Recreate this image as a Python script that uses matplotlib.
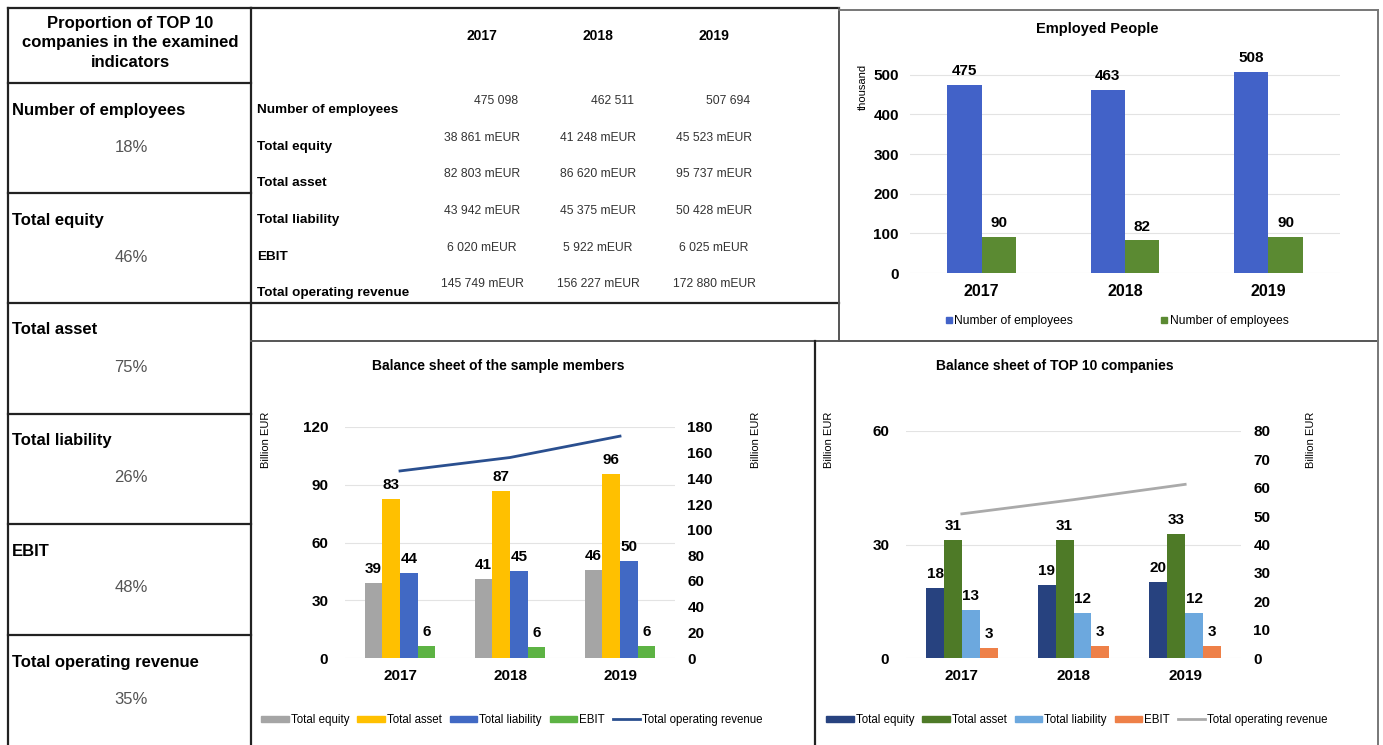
import numpy as np
import matplotlib
matplotlib.use("Agg")
import matplotlib.pyplot as plt
from matplotlib.lines import Line2D
from matplotlib.patches import Patch

plt.rcParams['font.family'] = ['Liberation Sans', 'DejaVu Sans']

# ---- data ----
years = ['2017', '2018', '2019']

share_labels = ['Number of employees', 'Total equity', 'Total asset',
                'Total liability', 'EBIT', 'Total operating revenue']
share_values = ['18%', '46%', '75%', '26%', '48%', '35%']

table_rows = ['Number of employees', 'Total equity', 'Total asset',
              'Total liability', 'EBIT', 'Total operating revenue']
table_cells = [
    ['475 098', '462 511', '507 694'],
    ['38 861 mEUR', '41 248 mEUR', '45 523 mEUR'],
    ['82 803 mEUR', '86 620 mEUR', '95 737 mEUR'],
    ['43 942 mEUR', '45 375 mEUR', '50 428 mEUR'],
    ['6 020 mEUR', '5 922 mEUR', '6 025 mEUR'],
    ['145 749 mEUR', '156 227 mEUR', '172 880 mEUR'],
]

employees_all = [475.098, 462.511, 507.694]   # thousand
employees_top10 = [90, 82, 90]

sample_equity = [38.861, 41.248, 45.523]
sample_asset = [82.803, 86.620, 95.737]
sample_liability = [43.942, 45.375, 50.428]
sample_ebit = [6.020, 5.922, 6.025]
sample_revenue = [145.749, 156.227, 172.880]

top_equity = [18.4, 19.4, 20.2]
top_asset = [31.2, 31.3, 32.8]
top_liability = [12.7, 11.8, 12.0]
top_ebit = [2.7, 3.1, 3.1]
top_revenue = [50.8, 55.8, 61.2]

series_names = ['Total equity', 'Total asset', 'Total liability', 'EBIT']

W, H = 1383, 745
fig = plt.figure(figsize=(W / 100, H / 100), dpi=100)


def box(x0, y0, x1, y1):
    return [x0 / W, 1 - y1 / H, (x1 - x0) / W, (y1 - y0) / H]


def txt(x, y, s, **kw):
    fig.text(x / W, 1 - y / H, s, **kw)


def line(x0, y0, x1, y1, color='#222222', lw=1.6):
    fig.add_artist(Line2D([x0 / W, x1 / W], [1 - y0 / H, 1 - y1 / H],
                          transform=fig.transFigure, color=color, lw=lw))


# ---- frame lines ----
for y in [8, 83, 193, 303, 414, 524, 635]:
    line(8, y, 251, y)
line(8, 8, 8, 745)
line(251, 8, 251, 745)
line(251, 8, 839, 8)
line(251, 303, 839, 303)
line(839, 8, 839, 341, color='#555555', lw=1.4)
line(251, 341, 1378, 341, color='#555555', lw=1.4)
line(815, 341, 815, 745)
line(839, 10, 1378, 10, color='#777777', lw=1.4)
line(1378, 10, 1378, 745, color='#777777', lw=1.4)

# ---- left column ----
txt(130, 43, 'Proportion of TOP 10\ncompanies in the examined\nindicators',
    ha='center', va='center', fontsize=12, fontweight='bold', linespacing=1.35)
row_tops = [83, 193, 303, 414, 524, 635]
for top, lab, val in zip(row_tops, share_labels, share_values):
    txt(12, top + 27, lab, ha='left', va='center', fontsize=12, fontweight='bold')
    txt(131, top + 64, val, ha='center', va='center', fontsize=12, color='#555555')

# ---- table ----
col_x = [482, 598, 714]
for cx, yr in zip(col_x, years):
    txt(cx, 36, yr, ha='center', va='center', fontsize=10, fontweight='bold')
label_y = [110, 147, 183, 220, 257, 293]
for i, (lab, ly) in enumerate(zip(table_rows, label_y)):
    txt(257, ly, lab, ha='left', va='center', fontsize=9.7, fontweight='bold')
    for cx, cell in zip(col_x, table_cells[i]):
        if i == 0:
            txt(cx + 36, ly - 9, cell, ha='right', va='center', fontsize=8.7, color='#333333')
        else:
            txt(cx, ly - 9, cell, ha='center', va='center', fontsize=8.7, color='#333333')

x = np.arange(len(years))

# ---- Employed People ----
ax = fig.add_axes(box(910, 51, 1340, 273))
w = 0.24
b1 = ax.bar(x - w / 2, employees_all, w, color='#4262C8')
b2 = ax.bar(x + w / 2, employees_top10, w, color='#5B8A32')
for bars, vals in [(b1, employees_all), (b2, employees_top10)]:
    for r, v in zip(bars, vals):
        ax.annotate(f'{v:.0f}', (r.get_x() + r.get_width() / 2, r.get_height()),
                    xytext=(0, 5), textcoords='offset points', ha='center', va='bottom',
                    fontsize=11, fontweight='bold')
ax.set_xlim(-0.5, 2.5)
ax.set_ylim(0, 560)
ax.set_yticks(range(0, 501, 100))
ax.set_xticks(x)
ax.set_xticklabels(years)
ax.grid(axis='y', color='#e3e3e3', lw=0.8)
ax.set_axisbelow(True)
for s in ax.spines.values():
    s.set_visible(False)
ax.tick_params(length=0)
ax.tick_params(axis='y', pad=8, labelsize=11)
ax.tick_params(axis='x', pad=8, labelsize=11.5)
for t in ax.get_xticklabels() + ax.get_yticklabels():
    t.set_fontweight('bold')
txt(1097, 29, 'Employed People', ha='center', va='center', fontsize=10.5, fontweight='bold')
txt(863, 87, 'thousand', ha='center', va='center', rotation=90, fontsize=8)
emp_handles = [Line2D([], [], marker='s', ls='', color='#4262C8', markersize=4),
               Line2D([], [], marker='s', ls='', color='#5B8A32', markersize=4)]
fig.legend(emp_handles, ['Number of employees', 'Number of employees'],
           loc='center', bbox_to_anchor=(1117 / W, 1 - 321 / H), ncol=2, frameon=False,
           fontsize=8.7, handlelength=0.5, handletextpad=0.2, columnspacing=7.3)


def balance(rect, vals, rev, colors, line_color, ylim, rylim, lticks, rticks,
            title, title_xy, ylab_l, ylab_r, leg_xy):
    ax = fig.add_axes(box(*rect))
    w = 0.16
    handles = []
    for k, (v, c, name) in enumerate(zip(vals, colors, series_names)):
        bars = ax.bar(x + (k - 1.5) * w, v, w, color=c)
        for r, val in zip(bars, v):
            ax.annotate(f'{val:.0f}', (r.get_x() + r.get_width() / 2, r.get_height()),
                        xytext=(0, 5), textcoords='offset points', ha='center', va='bottom',
                        fontsize=11, fontweight='bold')
        handles.append(Patch(color=c, label=name))
    ax.set_xlim(-0.5, 2.5)
    ax.set_ylim(*ylim)
    ax.set_yticks(lticks)
    ax.set_xticks(x)
    ax.set_xticklabels(years)
    ax.grid(axis='y', color='#e3e3e3', lw=0.8)
    ax.set_axisbelow(True)
    for s in ax.spines.values():
        s.set_visible(False)
    ax.tick_params(length=0)
    ax.tick_params(axis='y', pad=12, labelsize=11)
    ax.tick_params(axis='x', pad=8, labelsize=11)
    for t in ax.get_xticklabels() + ax.get_yticklabels():
        t.set_fontweight('bold')
    ax2 = ax.twinx()
    ax2.plot(x, rev, color=line_color, lw=2)
    ax2.set_ylim(*rylim)
    ax2.set_yticks(rticks)
    for s in ax2.spines.values():
        s.set_visible(False)
    ax2.tick_params(length=0, pad=9, labelsize=11)
    for t in ax2.get_yticklabels():
        t.set_fontweight('bold')
    handles.append(Line2D([], [], color=line_color, lw=2, label='Total operating revenue'))
    txt(*title_xy, title, ha='center', va='center', fontsize=10, fontweight='bold')
    txt(*ylab_l, 'Billion EUR', ha='center', va='center', rotation=90, fontsize=8)
    txt(*ylab_r, 'Billion EUR', ha='center', va='center', rotation=90, fontsize=8)
    fig.legend(handles=handles, loc='center', bbox_to_anchor=(leg_xy[0] / W, 1 - leg_xy[1] / H),
               ncol=5, frameon=False, fontsize=8.3, handlelength=2.4, handleheight=0.45,
               handletextpad=0.15, columnspacing=0.7)


balance((345, 427, 675, 658),
        [sample_equity, sample_asset, sample_liability, sample_ebit], sample_revenue,
        ['#A5A5A5', '#FFC000', '#4169C4', '#5DB344'], '#2A4F8F',
        (0, 120), (0, 180), range(0, 121, 30), range(0, 181, 20),
        'Balance sheet of the sample members', (498, 366), (266, 440), (756, 440), (512, 720))

balance((906, 431, 1241, 658),
        [top_equity, top_asset, top_liability, top_ebit], top_revenue,
        ['#27427F', '#4E7A27', '#6CA8DE', '#EE8048'], '#AAAAAA',
        (0, 60), (0, 80), range(0, 61, 30), range(0, 81, 10),
        'Balance sheet of TOP 10 companies', (1055, 366), (829, 440), (1311, 440), (1077, 720))

fig.savefig('out.png', dpi=100)
